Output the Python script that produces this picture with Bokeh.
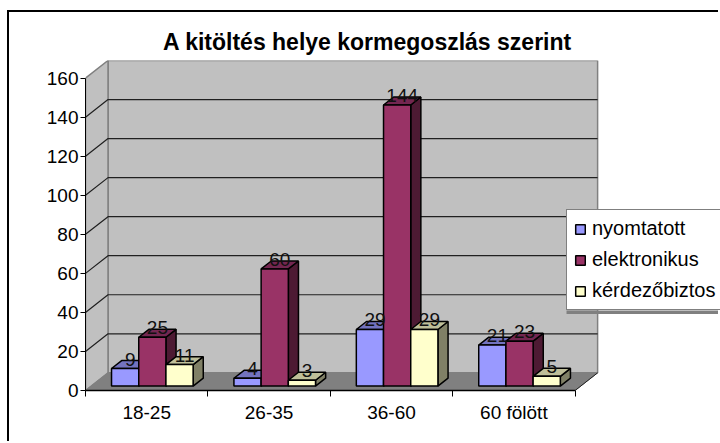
from bokeh.plotting import figure
from bokeh.models import (Range1d, FixedTicker, Legend, LegendItem, BoxAnnotation, Title)
from bokeh.core.properties import value
from bokeh.embed import file_html
from bokeh.resources import INLINE

categories = ["18-25", "26-35", "36-60", "60 fölött"]
series_names = ["nyomtatott", "elektronikus", "kérdezőbiztos"]
nyomtatott = [9, 4, 29, 21]
elektronikus = [25, 60, 144, 23]
kerdezobiztos = [11, 3, 29, 5]
y_ticks = [0, 20, 40, 60, 80, 100, 120, 140, 160]
title_text = "A kitöltés helye kormegoszlás szerint"

FONT = "Liberation Sans"
FS = "19px"
front_colors = ["#9999FF", "#993366", "#FFFFCC"]
top_colors = ["#7373BF", "#732650", "#BFBF99"]
side_colors = ["#5C5C99", "#4D1A33", "#808066"]

# oblique depth projection, in data units
DX = 0.184
DY = 9.05
YMAX = 160
XMAX = 5.188
BAR_W = 1 / 4.5
D0 = 0.25
D1 = 0.70

def px(x, d):
    return x + d * DX

def py(v, d):
    return v + d * DY

W, H = 711, 431
p = figure(width=W, height=H, output_backend="svg", toolbar_location=None,
           x_range=Range1d(0, XMAX), y_range=Range1d(0, YMAX + DY),
           min_border_left=76, min_border_right=0, min_border_top=48, min_border_bottom=53,
           background_fill_color="white", border_fill_color="white")
p.styles = {"border-left": "2px solid black", "border-top": "2px solid black",
            "margin-left": "7px", "margin-top": "10px"}
p.outline_line_color = None
p.grid.visible = False

# walls and floor
wall_ticks = y_ticks
p.patch([px(0, 1), px(4, 1), px(4, 1), px(0, 1)], [py(0, 1), py(0, 1), py(YMAX, 1), py(YMAX, 1)],
        fill_color="#C0C0C0", line_color="#808080", line_width=1.5)
p.patch([0, px(0, 1), px(0, 1), 0], [0, py(0, 1), py(YMAX, 1), YMAX],
        fill_color="#C0C0C0", line_color="#808080", line_width=1.5)
p.patch([0, 4, px(4, 1), px(0, 1)], [0, 0, py(0, 1), py(0, 1)],
        fill_color="#808080", line_color="#808080", line_width=1)
grid = [t for t in wall_ticks if 0 < t < YMAX]
p.multi_line([[0, px(0, 1), px(4, 1)] for t in grid],
             [[t, py(t, 1), py(t, 1)] for t in grid], line_color="#202020", line_width=1.2)
p.line([4, px(4, 1)], [0, py(0, 1)], line_color="#202020", line_width=1)

# bars
items = []
for s, vals in enumerate([nyomtatott, elektronikus, kerdezobiztos]):
    lefts = [i + (1 - 3 * BAR_W) / 2 + s * BAR_W + D0 * DX for i in range(4)]
    rights = [l + BAR_W for l in lefts]
    base = py(0, D0)
    tops_xs, tops_ys, side_xs, side_ys = [], [], [], []
    for l, r, v in zip(lefts, rights, vals):
        dx = (D1 - D0) * DX
        dy = (D1 - D0) * DY
        t = v + base
        tops_xs.append([l, r, r + dx, l + dx])
        tops_ys.append([t, t, t + dy, t + dy])
        side_xs.append([r, r + dx, r + dx, r])
        side_ys.append([base, base + dy, t + dy, t])
    p.patches(side_xs, side_ys, fill_color=side_colors[s], line_color="black", line_width=1.5)
    p.patches(tops_xs, tops_ys, fill_color=top_colors[s], line_color="black", line_width=1.5)
    r = p.quad(left=lefts, right=rights, bottom=[base] * 4, top=[v + base for v in vals],
               fill_color=front_colors[s], line_color="black", line_width=1.5)
    items.append(LegendItem(label=series_names[s], renderers=[r]))

# data labels
for s, vals in enumerate([nyomtatott, elektronikus, kerdezobiztos]):
    xs = [i + (1 - 3 * BAR_W) / 2 + (s + 0.5) * BAR_W + (D0 + D1) / 2 * DX for i in range(4)]
    ys = [v + py(0, D0) for v in vals]
    p.text(xs, ys, text=[str(v) for v in vals], text_font=value(FONT), text_font_size=FS,
           text_color="#111111", text_align="center", text_baseline="bottom", y_offset=-3)

# axes
ya = p.yaxis[0]
ya.ticker = FixedTicker(ticks=y_ticks)
ya.bounds = (0, YMAX)
ya.axis_line_color = "black"
ya.major_tick_in = 0
ya.major_tick_out = 5
ya.minor_tick_line_color = None
ya.major_label_standoff = 2
ya.major_label_text_font = FONT
ya.major_label_text_font_size = FS
ya.major_label_text_color = "black"

xa = p.xaxis[0]
xa.ticker = FixedTicker(ticks=[i + 0.5 for i in range(4)], minor_ticks=[0, 1, 2, 3, 4])
xa.major_label_overrides = {i + 0.5: c for i, c in enumerate(categories)}
xa.bounds = (0, 4)
xa.axis_line_color = "black"
xa.axis_line_width = 1.5
xa.major_tick_line_color = None
xa.major_tick_in = 0
xa.major_tick_out = 6
xa.minor_tick_in = 0
xa.minor_tick_out = 6
xa.minor_tick_line_color = "black"
xa.major_label_standoff = 5
xa.major_label_text_font = FONT
xa.major_label_text_font_size = FS
xa.major_label_text_color = "black"

# title
p.title = Title(text=title_text, text_font=FONT, text_font_size="23px", text_font_style="bold",
                text_color="black", align="left", offset=77.5, standoff=11)

# legend shadow, then legend
p.add_layout(BoxAnnotation(left=3.93, right=XMAX, top=41.0, bottom=39.2,
                           fill_color="#808080", fill_alpha=1, line_color=None))
leg = Legend(items=items, location=(481, 80), orientation="vertical",
             background_fill_color="white", background_fill_alpha=1,
             border_line_color="black", border_line_width=1,
             glyph_width=12, glyph_height=12, label_text_font=FONT, label_text_font_size="20px",
             label_text_color="black", label_standoff=6, spacing=8, padding=7, margin=0)
p.add_layout(leg, "center")

open("out.html", "w").write(file_html(p, INLINE))
